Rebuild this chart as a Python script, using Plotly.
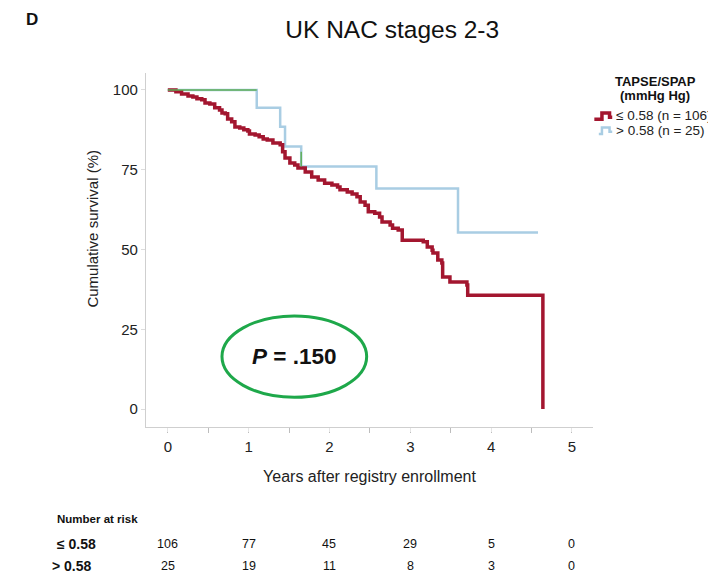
import plotly.graph_objects as go

# Kaplan-Meier estimates (years after enrollment, survival %)
low_t = [0.00, 0.10, 0.17, 0.25, 0.31, 0.36, 0.42, 0.46, 0.52, 0.58, 0.64, 0.67,
         0.71, 0.74, 0.79, 0.83, 0.89, 0.94, 0.99, 1.01, 1.08, 1.13, 1.18, 1.23,
         1.30, 1.39, 1.42, 1.45, 1.51, 1.57, 1.61, 1.70, 1.78, 1.86, 1.94, 2.03,
         2.10, 2.13, 2.22, 2.28, 2.34, 2.38, 2.44, 2.48, 2.56, 2.62, 2.65, 2.75,
         2.78, 2.85, 2.90, 3.16, 3.21, 3.27, 3.28, 3.34, 3.39, 3.40, 3.49, 3.70,
         3.71, 4.64]
low_s = [100.0, 99.4, 98.7, 98.1, 97.8, 97.2, 96.9, 95.9, 95.6, 94.4, 93.7, 92.8,
         92.5, 90.9, 90.0, 88.4, 88.1, 87.5, 87.1, 86.2, 85.9, 85.3, 84.6, 84.3,
         83.4, 82.8, 80.6, 78.7, 77.1, 76.5, 75.5, 74.3, 72.7, 71.8, 70.8, 70.2,
         69.6, 68.7, 68.0, 67.4, 66.5, 64.9, 63.9, 61.8, 61.4, 60.2, 58.6, 57.7,
         56.7, 56.1, 52.9, 52.4, 50.8, 49.8, 48.9, 46.7, 45.8, 41.4, 39.8, 38.9,
         35.7, 0.0]

high_t = [0.00, 1.10, 1.39, 1.45, 1.65, 2.58, 3.59, 4.58]
high_s = [100.0, 94.4, 88.5, 82.3, 76.0, 69.1, 55.3, 55.3]

# overall-cohort overlay segments
ovl_t = [0.00, 1.10, None, 1.65, 1.65]
ovl_s = [100.0, 100.0, None, 80.6, 76.0]

risk_years = [0, 1, 2, 3, 4, 5]
risk_low = [106, 77, 45, 29, 5, 0]
risk_high = [25, 19, 11, 8, 3, 0]

RED = "#a3162f"
BLUE = "#a9cde3"
GREEN = "#5fae57"
FONT = "Liberation Sans, Arial, sans-serif"

fig = go.Figure()
fig.add_trace(go.Scatter(x=high_t, y=high_s, mode="lines", line_shape="hv",
                         line=dict(color=BLUE, width=2.5), showlegend=False))
fig.add_trace(go.Scatter(x=low_t, y=low_s, mode="lines", line_shape="hv",
                         line=dict(color=RED, width=3.5), showlegend=False))
fig.add_trace(go.Scatter(x=ovl_t, y=ovl_s, mode="lines",
                         line=dict(color=GREEN, width=1.5), showlegend=False))


def note(x, y, text, size, xref="paper", xanchor="center", color="#111", **kw):
    return dict(x=x, y=y, xref=xref, yref="paper", showarrow=False, text=text,
                xanchor=xanchor, yanchor="middle", font=dict(size=size, color=color), **kw)


ann = [
    # panel letter
    note(-0.255, 1.150, "<b>D</b>", 17),
    # y-axis title
    note(-0.119, 0.560, "Cumulative survival (%)", 15, color="#222", textangle=-90),
    # legend block
    note(1.139, 0.977, "<b>TAPSE/SPAP</b>", 13),
    note(1.139, 0.937, "<b>(mmHg Hg)</b>", 13),
    note(1.047, 0.880, "≤ 0.58 (n = 106)", 13.5, xanchor="left", color="#222"),
    note(1.047, 0.838, "> 0.58 (n = 25)", 13.5, xanchor="left", color="#222"),
    # P-value callout text
    dict(x=1.56, y=16.4, xref="x", yref="y", showarrow=False,
         text="<b><i>P</i> = .150</b>", font=dict(size=22.5, color="#111")),
    # number at risk table
    note(-0.204, -0.260, "<b>Number at risk</b>", 11.5, xanchor="left"),
    note(-0.204, -0.331, "<b>≤ 0.58</b>", 14, xanchor="left"),
    note(-0.215, -0.393, "<b>> 0.58</b>", 14, xanchor="left"),
]
for yr, a, b in zip(risk_years, risk_low, risk_high):
    ann.append(note(yr, -0.331, str(a), 12.5, xref="x"))
    ann.append(note(yr, -0.393, str(b), 12.5, xref="x"))


# legend step glyphs
def glyph(x0, y_base, color, width):
    return dict(type="path", xref="paper", yref="paper",
                path=f"M {x0} {y_base} L 1.020 {y_base} L 1.020 {y_base + 0.018} "
                     f"L 1.037 {y_base + 0.018} L 1.037 {y_base + 0.006} L 1.043 {y_base + 0.006}",
                line=dict(color=color, width=width))


shapes = [
    dict(type="circle", xref="x", yref="y", x0=0.67, x1=2.46, y0=3.7, y1=29.2,
         line=dict(color="#1ea84a", width=3)),
    glyph(1.003, 0.869, RED, 3.5),
    glyph(1.013, 0.828, BLUE, 2.5),
]

fig.update_layout(
    width=708, height=575,
    margin=dict(l=146, r=115, t=73, b=148),
    paper_bgcolor="white", plot_bgcolor="white",
    font=dict(family=FONT, color="#222"),
    title=dict(text="UK NAC stages 2-3", x=0.554, y=0.948, xref="container",
               yref="container", xanchor="center", yanchor="middle",
               font=dict(size=24.5, color="#111")),
    annotations=ann,
    shapes=shapes,
    xaxis=dict(range=[-0.27, 5.26], tickvals=risk_years, showgrid=False, zeroline=False,
               showline=True, linecolor="#cfcfcf", linewidth=1.2,
               ticks="outside", ticklen=4, tickcolor="#e6e6e6",
               minor=dict(dtick=0.5, tick0=0, ticks="outside", ticklen=5, tickcolor="#bdbdbd"),
               tickfont=dict(size=15, color="#222"), ticklabelstandoff=2,
               title=dict(text="Years after registry enrollment", font=dict(size=16, color="#222"),
                          standoff=16)),
    yaxis=dict(range=[-5.6, 105.3], tickvals=[0, 25, 50, 75, 100], showgrid=False,
               zeroline=False, showline=True, linecolor="#cfcfcf", linewidth=1.2,
               ticks="outside", ticklen=4, tickcolor="#dcdcdc",
               tickfont=dict(size=15, color="#222"), ticklabelstandoff=0),
)

fig.write_html("out.html")
